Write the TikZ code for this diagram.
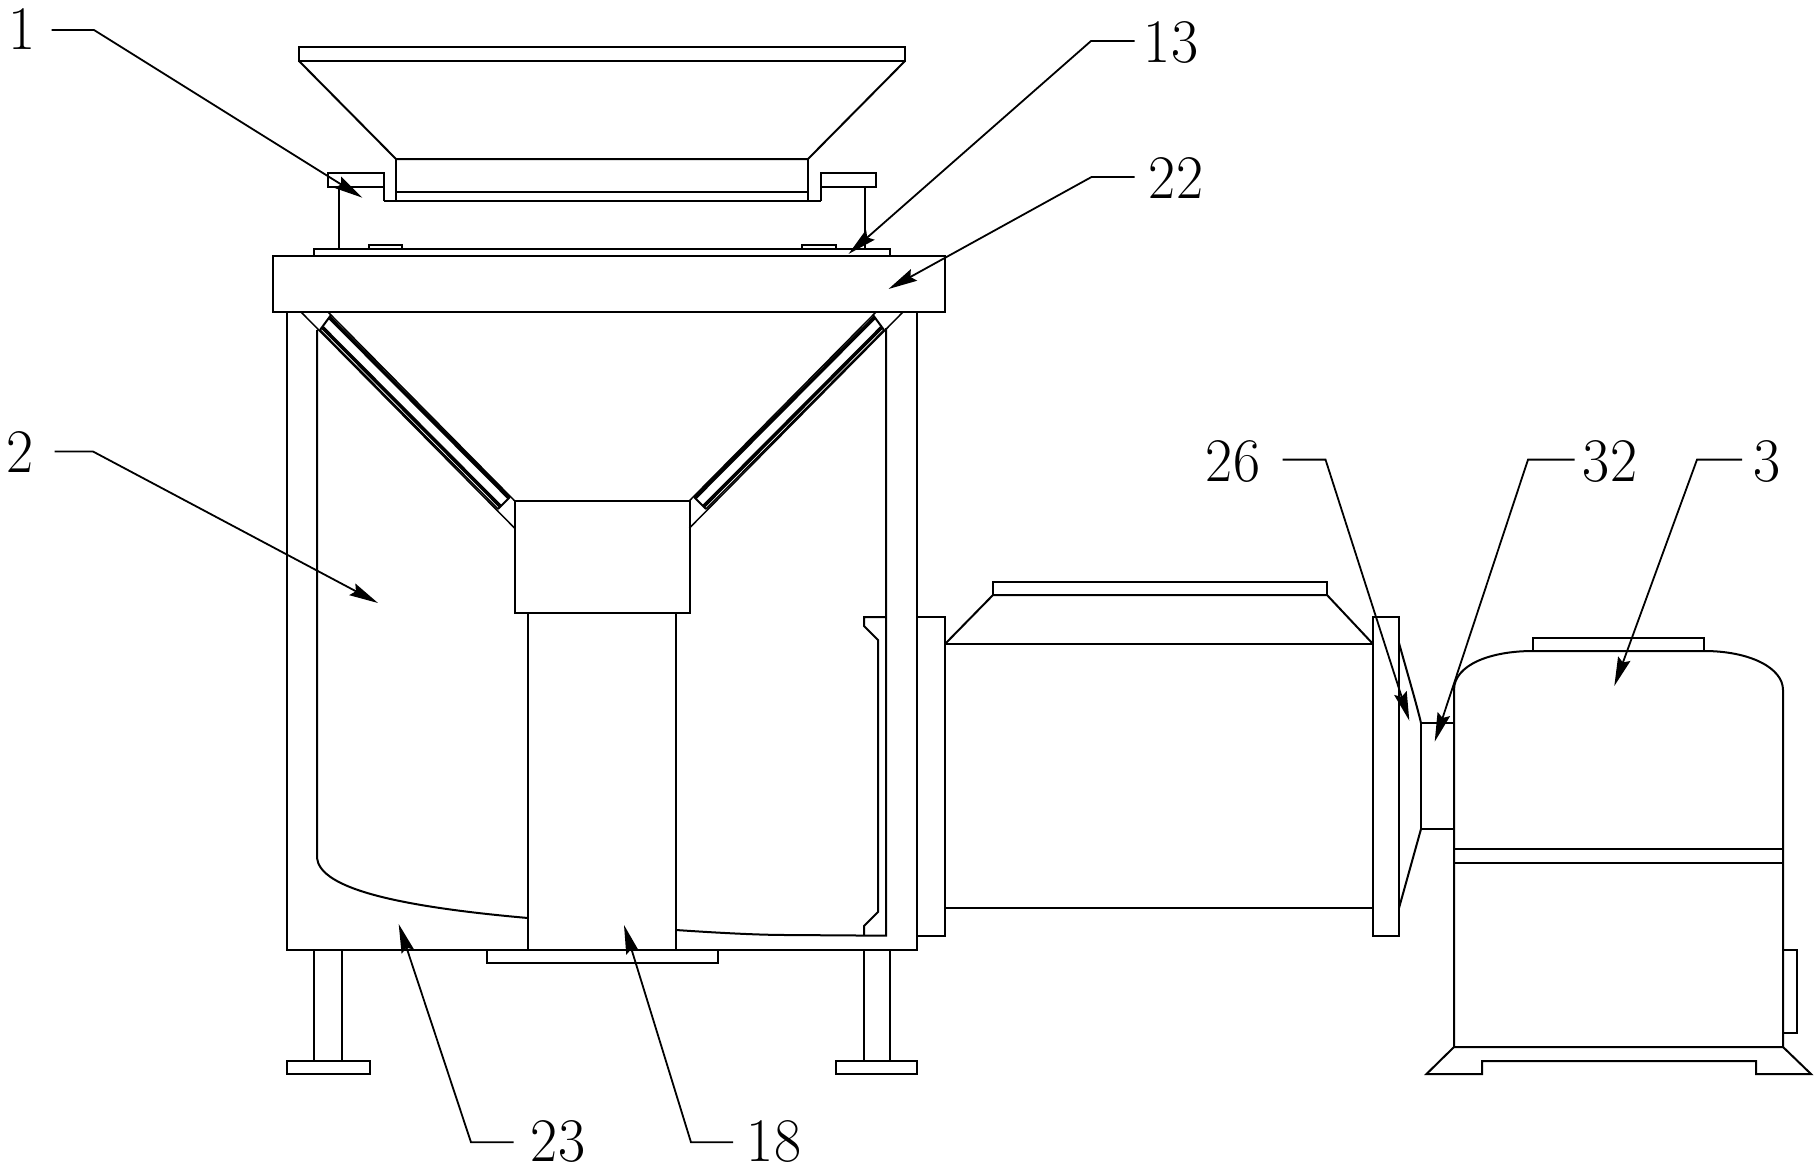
\documentclass[tikz,border=0pt]{standalone}
\usepackage{graphicx}
\usetikzlibrary{arrows.meta}
\tikzset{
  part/.style={line width=2pt,line join=miter},
  fine/.style={line width=1.5pt},
  heavy/.style={line width=3.6pt},
  lead/.style={line width=1.8pt,-{Stealth[length=29pt,width=13pt,inset=4pt]}},
  num/.style={inner sep=0pt,font=\fontsize{62}{62}\selectfont},
}
\newcommand{\nm}[1]{\scalebox{0.95}[1]{#1}}
\begin{document}
\begin{tikzpicture}[x=1pt,y=-1pt]
\useasboundingbox (0,0) rectangle (1820,1170);
\fill[white] (0,0) rectangle (1820,1170);
% hopper
\draw[part] (299,47) rectangle (905,61);
\draw[part] (299,61) -- (396,159) -- (808,159) -- (905,61);
\draw[part] (396,159) -- (396,201);
\draw[part] (808,159) -- (808,201);
\draw[part] (396,192) -- (808,192);
\draw[part] (384,201) -- (821,201);
\draw[part] (384,201) -- (384,173) -- (328,173) -- (328,187) -- (384,187);
\draw[part] (821,201) -- (821,173) -- (876,173) -- (876,187) -- (821,187);
\draw[part] (339,187) -- (339,249);
\draw[part] (865,187) -- (865,249);
% plate and bolts
\draw[part] (314,256) -- (314,249) -- (890,249) -- (890,256);
\draw[part] (369,249) -- (369,245) -- (402,245) -- (402,249);
\draw[part] (802,249) -- (802,245) -- (836,245) -- (836,249);
% top band
\draw[part] (273,256) rectangle (945,312);
% frame
\draw[part] (287,312) -- (287,950) -- (917,950) -- (917,312);
\draw[part] (317,330) -- (317,858) .. controls (320,885) and (380,905) .. (528,918);
\draw[part] (676,930) .. controls (720,933) and (760,935) .. (787,935) -- (886,935.7) -- (886,328);
% funnel walls: left
\draw[fine] (301,312) -- (514.5,528);
\draw[fine] (328,312) -- (514.5,500.7);
\draw[fine] (320,330) -- (498,509);
\draw[heavy] (322.5,327.5) -- (500.5,506.5);
\draw[heavy] (329,317) -- (509,498);
\draw[part] (320,330) -- (331,315);
\draw[part] (498,509) -- (510,497);
% funnel walls: right
\draw[fine] (903,312) -- (689.5,528);
\draw[fine] (876,312) -- (689.5,500.7);
\draw[fine] (884,330) -- (706,509);
\draw[heavy] (881.5,327.5) -- (703.5,506.5);
\draw[heavy] (875,317) -- (695,498);
\draw[part] (884,330) -- (873,315);
\draw[part] (706,509) -- (694,497);
% central box and column
\draw[part] (514.5,500.7) rectangle (689.5,613);
\draw[part] (528,613) -- (528,950);
\draw[part] (676,613) -- (676,950);
\draw[part] (487,950) -- (487,963) -- (718,963) -- (718,950);
% inner bracket
\draw[part] (886,617) -- (864,617) -- (864,626) -- (878,640) -- (878,912) -- (864,926) -- (864,935.7);
% legs
\draw[part] (314,950) -- (314,1061);
\draw[part] (342,950) -- (342,1061);
\draw[part] (287,1061) rectangle (370,1074);
\draw[part] (864,950) -- (864,1061);
\draw[part] (890,950) -- (890,1061);
\draw[part] (835.5,1061) rectangle (917,1074);
% flange and conveyor
\draw[part] (917,617) -- (945,617) -- (945,936) -- (917,936);
\draw[part] (945,644) -- (1373,644);
\draw[part] (945,908) -- (1373,908);
\draw[part] (945,644) -- (993,595) -- (1327,595) -- (1373,644);
\draw[part] (993,595) -- (993,582) -- (1327,582) -- (1327,595);
% right flange, cone, coupling
\draw[part] (1373,617) rectangle (1399,936);
\draw[part] (1399,643) .. controls (1407,672) and (1416,702) .. (1421,723);
\draw[part] (1399,908) -- (1421,829);
\draw[part] (1421,723) rectangle (1454,829);
% motor
\draw[part] (1454,1047) -- (1454,690) .. controls (1454,665) and (1490,651) .. (1533,651) -- (1704,651) .. controls (1750,651) and (1783,668) .. (1783,690) -- (1783,1047) -- cycle;
\draw[part] (1533,651) -- (1533,638) -- (1704,638) -- (1704,651);
\draw[part] (1454,848.5) -- (1783,848.5);
\draw[part] (1454,863) -- (1783,863);
\draw[part] (1783,950) -- (1797,950) -- (1797,1033) -- (1783,1033);
\draw[part] (1454,1047) -- (1426.5,1074) -- (1482,1074) -- (1482,1061) -- (1756,1061) -- (1756,1074) -- (1811,1074) -- (1783,1047);
% labels
\node[num] (n1) at (22,29) {\nm{1}};
\node[num] (n13) at (1171,43) {\nm{13}};
\node[num] (n22) at (1176,178) {\nm{22}};
\node[num] (n2) at (20,452) {\nm{2}};
\node[num] (n26) at (1233,461) {\nm{26}};
\node[num] (n32) at (1610,461) {\nm{32}};
\node[num] (n3) at (1767,461) {\nm{3}};
\node[num] (n23) at (558,1141) {\nm{23}};
\node[num] (n18) at (774,1141) {\nm{18}};
% leader targets
\coordinate (t1) at (362.4,197.7);
\coordinate (t13) at (848.5,254);
\coordinate (t22) at (888.5,289);
\coordinate (t2) at (378,603);
\coordinate (t26) at (1409.3,720.7);
\coordinate (t32) at (1434.7,741.7);
\coordinate (t3) at (1614.3,686);
\coordinate (t23) at (398.7,924);
\coordinate (t18) at (624,925);
% leaders
\draw[lead] (51.5,30) -- (94,30) -- (t1);
\draw[lead] (1134.6,41) -- (1091,41) -- (t13);
\draw[lead] (1134.6,177) -- (1091.5,177) -- (t22);
\draw[lead] (54.7,451.5) -- (93,451.5) -- (t2);
\draw[lead] (1282.5,459.6) -- (1325.5,459.6) -- (t26);
\draw[lead] (1574.5,459.6) -- (1528,459.6) -- (t32);
\draw[lead] (1742,459.6) -- (1697,459.6) -- (t3);
\draw[lead] (513.5,1142.3) -- (471,1142.3) -- (t23);
\draw[lead] (733,1142.3) -- (691,1142.3) -- (t18);
\end{tikzpicture}
\end{document}
